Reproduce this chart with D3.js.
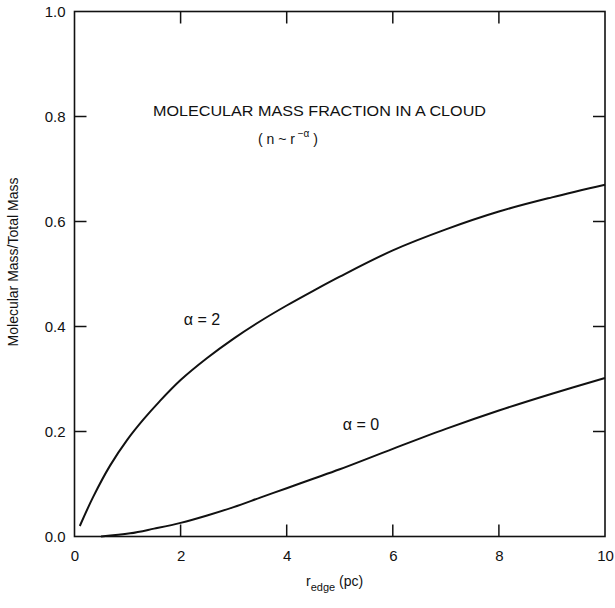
<!DOCTYPE html>
<html>
<head>
<meta charset="utf-8">
<script src="https://cdn.jsdelivr.net/npm/d3@7"></script>
<style>
  body { margin: 0; background: #fff; }
  svg { display: block; }
  text { font-family: "Liberation Sans", Arial, sans-serif; fill: #111; }
</style>
</head>
<body>
<svg id="chart" width="615" height="608"></svg>
<script>
// Data
const xTicks = [0, 2, 4, 6, 8, 10];
const yTicks = [0.0, 0.2, 0.4, 0.6, 0.8, 1.0];
const yTickLabels = ["0.0", "0.2", "0.4", "0.6", "0.8", "1.0"];

const alpha2X = [0.10, 0.35, 0.67, 1.00, 1.30, 1.60, 2.00, 2.50, 3.00, 3.50, 4.00, 4.50, 5.00, 6.00, 7.00, 8.00, 9.00, 10.0];
const alpha2Y = [0.020, 0.075, 0.135, 0.185, 0.223, 0.257, 0.298, 0.340, 0.377, 0.410, 0.440, 0.468, 0.495, 0.545, 0.585, 0.619, 0.646, 0.670];

const alpha0X = [0.50, 1.05, 1.50, 2.00, 2.50, 3.00, 3.50, 4.00, 4.50, 5.00, 6.00, 7.00, 8.00, 9.00, 10.0];
const alpha0Y = [0.000, 0.006, 0.015, 0.026, 0.040, 0.056, 0.074, 0.092, 0.110, 0.128, 0.167, 0.205, 0.240, 0.272, 0.302];

(function () {
const svg = d3.select("#chart");
const x = d3.scaleLinear().domain([0, 10]).range([74.5, 605]);
const y = d3.scaleLinear().domain([0, 1]).range([536.5, 11.5]);
const ink = "#111";
const g = svg.append("g");

// Frame
g.append("rect")
  .attr("x", x(0)).attr("y", y(1))
  .attr("width", x(10) - x(0)).attr("height", y(0) - y(1))
  .attr("fill", "none").attr("stroke", ink).attr("stroke-width", 1.6);

// Tick labels via axes (domain + tick lines removed, drawn inward below)
const axBottom = g.append("g").attr("transform", `translate(0,${y(0)})`)
  .call(d3.axisBottom(x).tickValues(xTicks).tickSize(0).tickPadding(14).tickFormat(d3.format("d")));
const axLeft = g.append("g").attr("transform", `translate(${x(0)},0)`)
  .call(d3.axisLeft(y).tickValues(yTicks).tickSize(0).tickPadding(9).tickFormat((d, i) => yTickLabels[i]));
[axBottom, axLeft].forEach(a => {
  a.select(".domain").remove();
  a.selectAll("line").remove();
  a.selectAll("text").attr("font-size", 15).attr("fill", ink);
});

// Inward ticks on all four sides
const tl = 12;
const innerX = xTicks.filter(d => d !== 0 && d !== 10);
const innerY = yTicks.filter(d => d !== 0 && d !== 1);
const ticks = g.append("g").attr("stroke", ink).attr("stroke-width", 1.5);
ticks.selectAll(".tb").data(innerX).join("line").attr("class", "tb")
  .attr("x1", d => x(d)).attr("x2", d => x(d)).attr("y1", y(0)).attr("y2", y(0) - tl);
ticks.selectAll(".tt").data(innerX).join("line").attr("class", "tt")
  .attr("x1", d => x(d)).attr("x2", d => x(d)).attr("y1", y(1)).attr("y2", y(1) + tl);
ticks.selectAll(".tlft").data(innerY).join("line").attr("class", "tlft")
  .attr("x1", x(0)).attr("x2", x(0) + tl).attr("y1", d => y(d)).attr("y2", d => y(d));
ticks.selectAll(".trgt").data(innerY).join("line").attr("class", "trgt")
  .attr("x1", x(10)).attr("x2", x(10) - tl).attr("y1", d => y(d)).attr("y2", d => y(d));

// Curves
const line = d3.line().x(d => x(d[0])).y(d => y(d[1])).curve(d3.curveCatmullRom.alpha(0.5));
g.append("path").datum(alpha2X.map((v, i) => [v, alpha2Y[i]]))
  .attr("d", line).attr("fill", "none").attr("stroke", ink).attr("stroke-width", 2);
g.append("path").datum(alpha0X.map((v, i) => [v, alpha0Y[i]]))
  .attr("d", line).attr("fill", "none").attr("stroke", ink).attr("stroke-width", 2);

// Curve labels
g.append("text").attr("x", 202).attr("y", 325).attr("font-size", 16)
  .attr("text-anchor", "middle").text("α = 2");
g.append("text").attr("x", 361).attr("y", 430).attr("font-size", 16)
  .attr("text-anchor", "middle").text("α = 0");

// Title
g.append("text").attr("x", 153).attr("y", 116).attr("font-size", 15.5)
  .attr("textLength", 333).attr("lengthAdjust", "spacingAndGlyphs")
  .text("MOLECULAR MASS FRACTION IN A CLOUD");
const sub = g.append("text").attr("x", 258).attr("y", 144).attr("font-size", 14);
sub.append("tspan").text("( n ~ r");
sub.append("tspan").attr("dy", -7).attr("font-size", 10).text(" −α");
sub.append("tspan").attr("dy", 7).text(" )");

// Axis titles
const xt = g.append("text").attr("x", 306).attr("y", 586).attr("font-size", 14);
xt.append("tspan").text("r");
xt.append("tspan").attr("dy", 5).attr("font-size", 11).text("edge");
xt.append("tspan").attr("dy", -5).text(" (pc)");

g.append("text").attr("transform", `translate(18,262) rotate(-90)`)
  .attr("font-size", 14).attr("text-anchor", "middle").text("Molecular Mass/Total Mass");
})();
</script>
</body>
</html>
